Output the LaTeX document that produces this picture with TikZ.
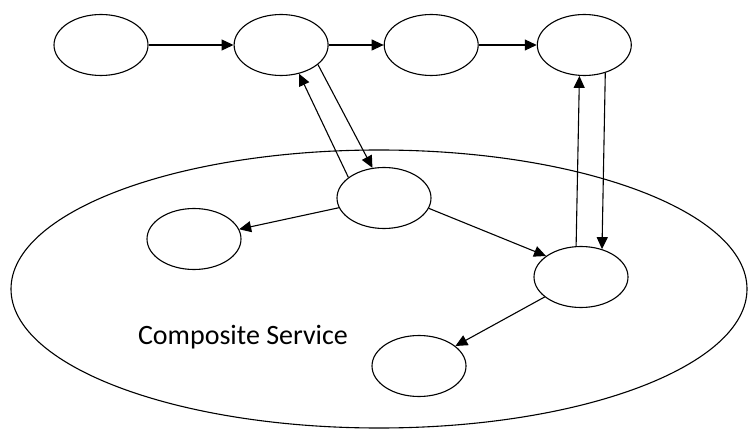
\documentclass[tikz,border=0pt]{standalone}
\usepackage{fontspec}
\setmainfont{Carlito}
\usetikzlibrary{positioning,arrows.meta,shapes.geometric}

\begin{document}
\begin{tikzpicture}[
  x=1pt, y=-1pt,
  svc/.style={draw, ellipse, line width=1.1pt, fill=white, inner sep=0pt, minimum width=94pt, minimum height=61pt},
  arrow/.style={-{Triangle[length=12pt,width=11pt]}, line width=1.1pt}
]
\useasboundingbox (0,0) rectangle (749,430);
% the composite service boundary
\node[draw, ellipse, line width=1.1pt, inner sep=0pt, minimum width=736pt, minimum height=278pt] (comp) at (379,289) {};
\node[font=\fontsize{28}{33}\selectfont] (label) at (243,337) {Composite Service};
% top row
\node[svc] (t1) at (101,45) {};
\node[svc, right=85pt of t1] (t2) {};
\node[svc, right=55pt of t2] (t3) {};
\node[svc, right=58pt of t3] (t4) {};
% inside the composite
\node[svc] (c1) at (384,198) {};
\node[svc] (c2) at (194,239) {};
\node[svc] (c3) at (581,277) {};
\node[svc] (c4) at (419,366) {};
\draw[arrow] (t1) -- (t2);
\draw[arrow] (t2) -- (t3);
\draw[arrow] (t3) -- (t4);
\draw[arrow] (t2.-28) -- (c1.111);
\draw[arrow] (c1.150) -- (t2.-58);
\draw[arrow] (c1) -- (c2);
\draw[arrow] (c1.-13) -- (c3.149);
\draw[arrow] (c3) -- (c4);
\draw[arrow] (t4.-53) -- (c3.53);
\draw[arrow] (c3.99) -- (t4.-99);
\end{tikzpicture}
\end{document}
